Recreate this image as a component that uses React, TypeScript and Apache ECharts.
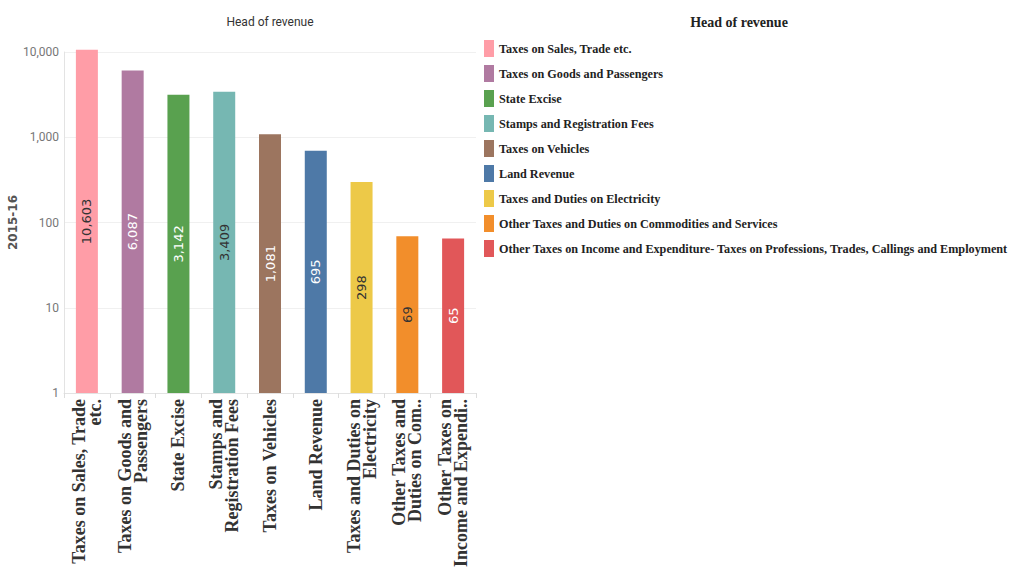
import React, { useEffect, useRef } from "react";
import * as echarts from "echarts";

const categories = [
  "Taxes on Sales, Trade etc.",
  "Taxes on Goods and Passengers",
  "State Excise",
  "Stamps and Registration Fees",
  "Taxes on Vehicles",
  "Land Revenue",
  "Taxes and Duties on Electricity",
  "Other Taxes and Duties on Commodities and Services",
  "Other Taxes on Income and Expenditure- Taxes on Professions, Trades, Callings and Employment",
];

const tickLabels = [
  "Taxes on Sales, Trade\netc.",
  "Taxes on Goods and\nPassengers",
  "State Excise",
  "Stamps and\nRegistration Fees",
  "Taxes on Vehicles",
  "Land Revenue",
  "Taxes and Duties on\nElectricity",
  "Other Taxes and\nDuties on Com..",
  "Other Taxes on\nIncome and Expendi..",
];

const values2015 = [10603, 6087, 3142, 3409, 1081, 695, 298, 69, 65];

const colors = [
  "#FF9DA7",
  "#B07AA1",
  "#59A14F",
  "#76B7B2",
  "#9C755F",
  "#4E79A7",
  "#EDC948",
  "#F28E2B",
  "#E15759",
];

const labelColors = ["#333333", "#ffffff", "#ffffff", "#333333", "#ffffff", "#ffffff", "#333333", "#333333", "#ffffff"];

const yAxisName = "2015-16";
const chartTitle = "Head of revenue";
const legendTitle = "Head of revenue";

export default function App() {
  const ref = useRef<HTMLDivElement>(null);

  useEffect(() => {
    if (!ref.current) return;
    const chart = echarts.init(ref.current, undefined, { renderer: "svg" });

    const series = categories.map((name, i) => ({
      type: "bar",
      name,
      data: categories.map((_, j) => (j === i ? values2015[i] : "-")),
      barWidth: 22,
      barGap: "-100%",
      clip: false,
      itemStyle: { color: colors[i] },
      label: {
        show: true,
        position: "inside",
        rotate: 90,
        color: labelColors[i],
        fontSize: 13,
        fontFamily: "DejaVu Sans",
        formatter: (p: any) => Number(p.value).toLocaleString("en-US"),
      },
    }));

    chart.setOption({
      animation: false,
      backgroundColor: "#ffffff",
      grid: { left: 64, right: 541, top: 52, bottom: 192, containLabel: false },
      graphic: [
        {
          type: "text",
          x: 270,
          y: 22,
          style: {
            text: chartTitle,
            fill: "#333333",
            fontSize: 12,
            fontFamily: "Roboto",
            align: "center",
            verticalAlign: "middle",
            textAlign: "center",
            textVerticalAlign: "middle",
          },
        },
        {
          type: "text",
          x: 739,
          y: 22,
          style: {
            text: legendTitle,
            fill: "#222222",
            fontSize: 14,
            fontWeight: "bold",
            fontFamily: "Liberation Serif",
            align: "center",
            verticalAlign: "middle",
            textAlign: "center",
            textVerticalAlign: "middle",
          },
        },
      ],
      legend: {
        orient: "vertical",
        left: 479,
        top: 35,
        itemWidth: 10,
        itemHeight: 17,
        itemGap: 8,
        icon: "rect",
        selectedMode: false,
        data: categories,
        textStyle: {
          fontFamily: "Liberation Serif",
          fontWeight: "bold",
          fontSize: 12.2,
          color: "#222222",
        },
      },
      xAxis: {
        type: "category",
        data: categories,
        axisLine: { show: true, lineStyle: { color: "#e3e3e3" } },
        axisTick: { show: true, length: 5, lineStyle: { color: "#dddddd" } },
        axisLabel: {
          interval: 0,
          rotate: 90,
          margin: 6,
          fontFamily: "Liberation Serif",
          fontWeight: "bold",
          fontSize: 18,
          lineHeight: 16,
          color: "#333333",
          formatter: (_v: string, idx: number) => tickLabels[idx],
        },
      },
      yAxis: {
        type: "log",
        logBase: 10,
        min: 1,
        max: 10000,
        name: yAxisName,
        nameLocation: "middle",
        nameGap: 42,
        nameTextStyle: {
          fontFamily: "DejaVu Sans",
          fontWeight: "bold",
          fontSize: 12,
          color: "#555555",
        },
        axisLine: { show: true, lineStyle: { color: "#e3e3e3" } },
        axisTick: { show: false },
        splitLine: { show: true, lineStyle: { color: "#f0f0f0" } },
        axisLabel: {
          margin: 5,
          fontFamily: "Roboto",
          fontSize: 12,
          color: "#777777",
          formatter: (v: number) => Math.round(v).toLocaleString("en-US"),
        },
      },
      series,
    });

    return () => chart.dispose();
  }, []);

  return (
    <div
      ref={ref}
      style={{ position: "fixed", left: 0, top: 0, width: 1017, height: 585 }}
    />
  );
}
